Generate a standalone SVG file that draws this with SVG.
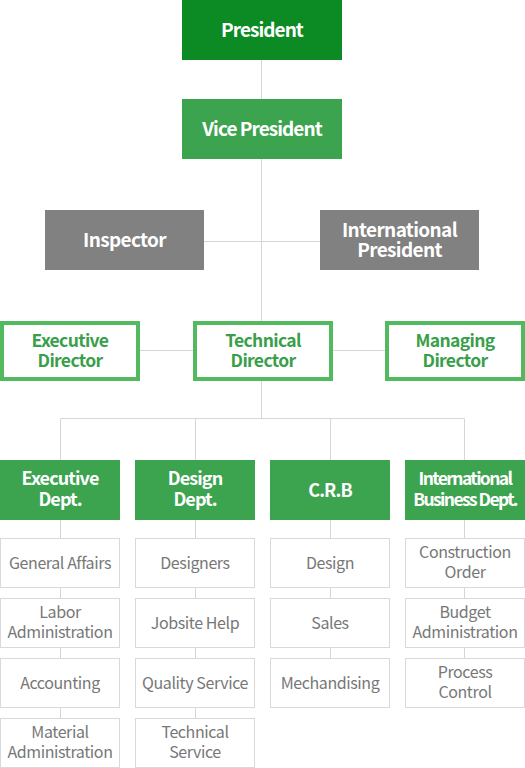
<svg xmlns="http://www.w3.org/2000/svg" width="525" height="768" viewBox="0 0 525 768">
<style>
text{font-family:"Noto Sans CJK KR","Noto Sans",sans-serif;text-anchor:middle}
.w{fill:#fff;font-weight:bold;font-size:19px;letter-spacing:-0.95px}
.k{fill:#fff;font-weight:bold;font-size:19px;letter-spacing:-0.65px}
.d{fill:#fff;font-weight:bold;font-size:18px;letter-spacing:-0.9px}
.n{fill:#fff;font-weight:bold;font-size:17.5px;letter-spacing:-1.6px}
.g{fill:#3a9f4a;font-weight:bold;font-size:17.5px;letter-spacing:-0.65px}
.s{fill:#777;font-size:16px;letter-spacing:-0.4px}
.line{stroke:#d6d6d6;stroke-width:1;fill:none}
.sub{fill:#fff;stroke:#d9d9d9;stroke-width:1}
.dir{fill:#fff;stroke:#52b95e;stroke-width:4}
.dept{fill:#3ca34f}
.gray{fill:#818181}
</style>
<g id="connectors" class="line">
<path d="M261.5 60V418.5"/>
<path d="M204 241.5H320"/>
<path d="M140 350.5H385"/>
<path d="M60.5 418.5H464.5"/>
<path d="M60.5 418.5V460M195.5 418.5V460M330.5 418.5V460M464.5 418.5V460"/>
<path d="M60.5 520V538M60.5 588V598M60.5 648V658M60.5 708V718"/>
<path d="M195.5 520V538M195.5 588V598M195.5 648V658M195.5 708V718"/>
<path d="M330.5 520V538M330.5 588V598M330.5 648V658"/>
<path d="M464.5 520V538M464.5 588V598M464.5 648V658"/>
</g>
<g id="president"><rect x="182" y="0" width="160" height="60" fill="#0c8a23"/><text class="w" x="262" y="37">President</text></g>
<g id="vice-president"><rect x="182" y="99" width="160" height="60" fill="#3ca34f"/><text class="w" x="262" y="136">Vice President</text></g>
<g id="inspector"><rect x="45" y="210" width="159" height="60" class="gray"/><text class="k" x="124.5" y="247">Inspector</text></g>
<g id="international-president"><rect x="320" y="210" width="159" height="60" class="gray"/><text class="k" x="399.5" y="237">International</text><text class="k" x="399.5" y="257">President</text></g>
<g id="executive-director"><rect x="2" y="323" width="136" height="56" class="dir"/><text class="g" x="70" y="347">Executive</text><text class="g" x="70" y="367">Director</text></g>
<g id="technical-director"><rect x="195" y="323" width="136" height="56" class="dir"/><text class="g" x="263" y="347">Technical</text><text class="g" x="263" y="367">Director</text></g>
<g id="managing-director"><rect x="387" y="323" width="136" height="56" class="dir"/><text class="g" x="455" y="347">Managing</text><text class="g" x="455" y="367">Director</text></g>
<g id="executive-dept"><rect x="0" y="460" width="120" height="60" class="dept"/><text class="d" x="60" y="485">Executive</text><text class="d" x="60" y="506">Dept.</text></g>
<g id="design-dept"><rect x="135" y="460" width="120" height="60" class="dept"/><text class="d" x="195" y="485">Design</text><text class="d" x="195" y="506">Dept.</text></g>
<g id="crb"><rect x="270" y="460" width="120" height="60" class="dept"/><text class="d" x="330" y="497">C.R.B</text></g>
<g id="international-business-dept"><rect x="405" y="460" width="120" height="60" class="dept"/><text class="n" x="465" y="485">International</text><text class="n" x="465" y="506">Business Dept.</text></g>
<g id="general-affairs"><rect x="0.5" y="538.5" width="119" height="49" class="sub"/><text class="s" x="60" y="569">General Affairs</text></g>
<g id="labor-administration"><rect x="0.5" y="598.5" width="119" height="49" class="sub"/><text class="s" x="60" y="618">Labor</text><text class="s" x="60" y="638">Administration</text></g>
<g id="accounting"><rect x="0.5" y="658.5" width="119" height="49" class="sub"/><text class="s" x="60" y="689">Accounting</text></g>
<g id="material-administration"><rect x="0.5" y="718.5" width="119" height="49" class="sub"/><text class="s" x="60" y="738">Material</text><text class="s" x="60" y="758">Administration</text></g>
<g id="designers"><rect x="135.5" y="538.5" width="119" height="49" class="sub"/><text class="s" x="195" y="569">Designers</text></g>
<g id="jobsite-help"><rect x="135.5" y="598.5" width="119" height="49" class="sub"/><text class="s" x="195" y="629">Jobsite Help</text></g>
<g id="quality-service"><rect x="135.5" y="658.5" width="119" height="49" class="sub"/><text class="s" x="195" y="689">Quality Service</text></g>
<g id="technical-service"><rect x="135.5" y="718.5" width="119" height="49" class="sub"/><text class="s" x="195" y="738">Technical</text><text class="s" x="195" y="758">Service</text></g>
<g id="design"><rect x="270.5" y="538.5" width="119" height="49" class="sub"/><text class="s" x="330" y="569">Design</text></g>
<g id="sales"><rect x="270.5" y="598.5" width="119" height="49" class="sub"/><text class="s" x="330" y="629">Sales</text></g>
<g id="mechandising"><rect x="270.5" y="658.5" width="119" height="49" class="sub"/><text class="s" x="330" y="689">Mechandising</text></g>
<g id="construction-order"><rect x="405.5" y="538.5" width="119" height="49" class="sub"/><text class="s" x="465" y="558">Construction</text><text class="s" x="465" y="578">Order</text></g>
<g id="budget-administration"><rect x="405.5" y="598.5" width="119" height="49" class="sub"/><text class="s" x="465" y="618">Budget</text><text class="s" x="465" y="638">Administration</text></g>
<g id="process-control"><rect x="405.5" y="658.5" width="119" height="49" class="sub"/><text class="s" x="465" y="678">Process</text><text class="s" x="465" y="698">Control</text></g>
</svg>
